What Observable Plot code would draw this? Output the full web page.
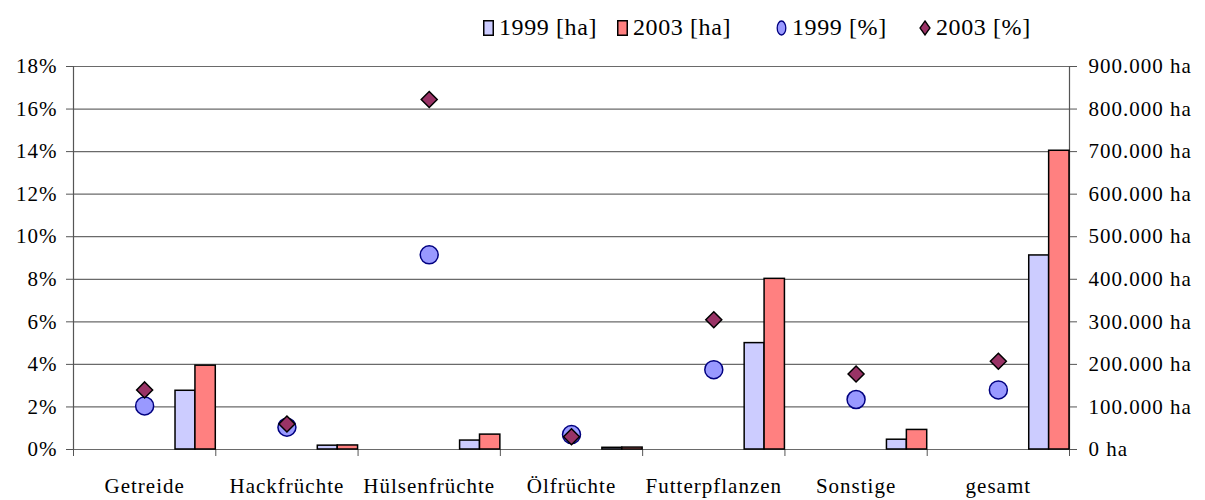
<!DOCTYPE html>
<html><head><meta charset="utf-8">
<script src="https://cdn.jsdelivr.net/npm/d3@7"></script>
<script src="https://cdn.jsdelivr.net/npm/@observablehq/plot@0.6"></script>
<style>
body{margin:0;background:#fff;font-family:"Liberation Serif","Times New Roman",serif;}
#wrap{position:relative;width:1205px;height:500px;overflow:hidden;}
#legend{position:relative;height:56px;font-size:24px;letter-spacing:0.6px;color:#000;}
.item{position:absolute;top:14px;display:flex;align-items:center;white-space:nowrap;}
.item svg{margin-right:5px;}
#chart svg{display:block;}
</style></head><body>
<div id="wrap">
<div id="legend"></div>
<div id="chart"></div>
</div>
<script>
const categories = ["Getreide","Hackfrüchte","Hülsenfrüchte","Ölfrüchte","Futterpflanzen","Sonstige","gesamt"];
const ha1999 = [138000, 9000, 21000, 4000, 250000, 23000, 456000];
const ha2003 = [197000, 9500, 35000, 4500, 401000, 46000, 702000];
const pct1999 = [2.05, 1.05, 9.15, 0.7, 3.75, 2.35, 2.8];
const pct2003 = [2.8, 1.2, 16.45, 0.6, 6.1, 3.55, 4.15];
const pctTicks = [0, 2, 4, 6, 8, 10, 12, 14, 16, 18];
const seriesNames = ["1999 [ha]", "2003 [ha]", "1999 [%]", "2003 [%]"];

const haMax = 900000, pctMax = 18;
const haToPct = v => v / haMax * pctMax;
const fmtHa = v => {
  const n = Math.round(v);
  return (n === 0 ? "0" : d3.format(",")(n).replace(/,/g, ".")) + " ha";
};

const rows = categories.map((c, i) => ({c, i, h99: ha1999[i], h03: ha2003[i], p99: pct1999[i], p03: pct2003[i]}));

// legend
const legendPos = [483, 617, 776, 919];
const swatches = [
  '<svg width="11" height="16"><rect x="0.75" y="0.75" width="9.5" height="14.5" fill="#CCCCFF" stroke="#000" stroke-width="1.5"/></svg>',
  '<svg width="11" height="16"><rect x="0.75" y="0.75" width="9.5" height="14.5" fill="#FF8080" stroke="#000" stroke-width="1.5"/></svg>',
  '<svg width="11" height="16"><ellipse cx="5.5" cy="8" rx="4.3" ry="7" fill="#9999FF" stroke="#000080" stroke-width="1.3"/></svg>',
  '<svg width="12" height="16"><path d="M6 1 L11 8 L6 15 L1 8 Z" fill="#993366" stroke="#000" stroke-width="1.3"/></svg>'
];
const legend = document.getElementById("legend");
seriesNames.forEach((name, k) => {
  const d = document.createElement("div");
  d.className = "item";
  d.style.left = legendPos[k] + "px";
  d.innerHTML = swatches[k] + "<span>" + name + "</span>";
  legend.appendChild(d);
});

const font = '"Liberation Serif","Times New Roman",serif';
const chart = Plot.plot({
  width: 1205,
  height: 444,
  marginTop: 10,
  marginBottom: 51,
  marginLeft: 73,
  marginRight: 136,
  style: {fontFamily: font, fontSize: "21px", background: "white", overflow: "visible", letterSpacing: "1px", color: "#000"},
  x: {domain: [0, categories.length], axis: null},
  y: {domain: [0, pctMax], axis: null},
  marks: [
    Plot.ruleY(pctTicks, {stroke: "#6a6a6a", strokeWidth: 1.2}),
    Plot.ruleX([0, categories.length], {y1: 0, y2: pctMax, stroke: "#555", strokeWidth: 1.2}),
    Plot.axisY({anchor: "left", ticks: pctTicks, tickFormat: d => d + "%", tickSize: 7, tickPadding: 9, stroke: "#555", fill: "#000"}),
    Plot.axisY({anchor: "right", ticks: pctTicks, tickFormat: d => fmtHa(d / pctMax * haMax), tickSize: 7, tickPadding: 12, stroke: "#555", fill: "#000"}),
    Plot.axisX({ticks: d3.range(0, categories.length + 1), tickFormat: () => "", tickSize: 7, stroke: "#555"}),
    Plot.axisX({ticks: categories.map((c, i) => i + 0.5), tickFormat: d => categories[Math.floor(d)], tickSize: 0, tickPadding: 29, fill: "#000"}),
    Plot.rectY(rows, {x1: d => d.i + 0.717, x2: d => d.i + 0.857, y1: 0, y2: d => haToPct(d.h99), fill: "#CCCCFF", stroke: "#000", strokeWidth: 1.5}),
    Plot.rectY(rows, {x1: d => d.i + 0.857, x2: d => d.i + 1.0, y1: 0, y2: d => haToPct(d.h03), fill: "#FF8080", stroke: "#000", strokeWidth: 1.5}),
    Plot.dot(rows, {x: d => d.i + 0.5, y: "p99", r: 9, fill: "#9999FF", stroke: "#000080", strokeWidth: 1.5}),
    Plot.dot(rows, {x: d => d.i + 0.5, y: "p03", symbol: "diamond2", r: 7.2, fill: "#993366", stroke: "#000", strokeWidth: 1.5})
  ]
});
document.getElementById("chart").appendChild(chart);
</script>
</body></html>
